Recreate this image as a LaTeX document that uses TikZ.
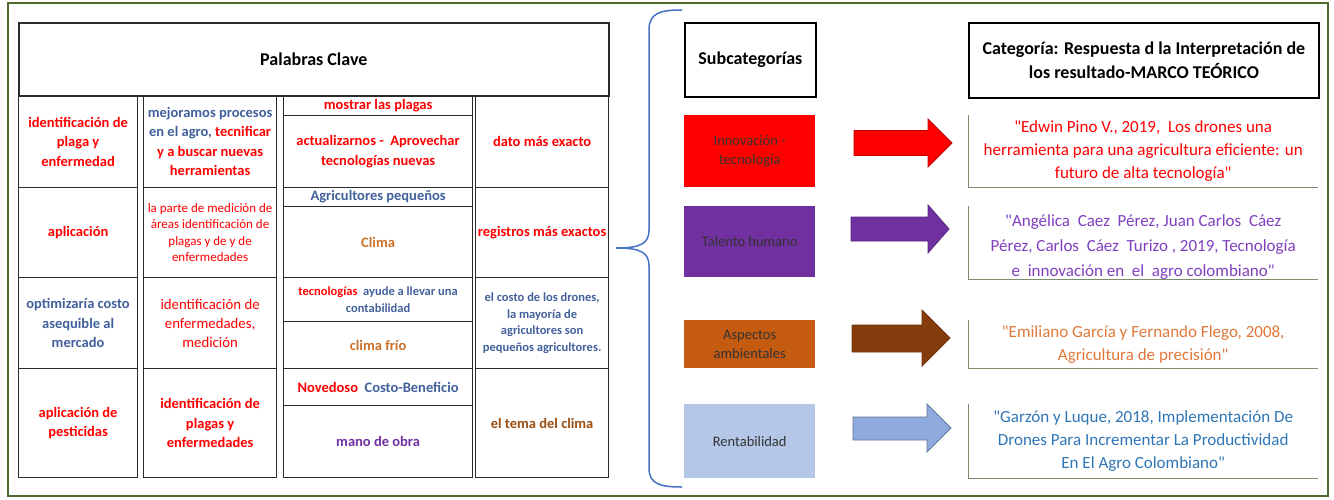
\documentclass[tikz,border=0pt]{standalone}
\usepackage{fontspec}
\setmainfont{Carlito}
\newfontfamily\citef{Carlito}
\definecolor{frameG}{HTML}{4F6B2F}
\definecolor{tline}{HTML}{2B2B2B}
\definecolor{kred}{HTML}{FF0000}
\definecolor{kblue}{HTML}{41609C}
\definecolor{korange}{HTML}{C8702A}
\definecolor{kbrown}{HTML}{9A4E12}
\definecolor{kpurple}{HTML}{7030A0}
\definecolor{subred}{HTML}{FF0000}
\definecolor{subpurple}{HTML}{7030A0}
\definecolor{suborange}{HTML}{C55A11}
\definecolor{subblue}{HTML}{B4C7E7}
\definecolor{arrbrown}{HTML}{843C0C}
\definecolor{arrblue}{HTML}{8FAADC}
\definecolor{citepurple}{HTML}{7F3FBF}
\definecolor{citeorange}{HTML}{E0783A}
\definecolor{citeblue}{HTML}{2E75B6}
\definecolor{citeline}{HTML}{7D8C6E}
\definecolor{bracec}{HTML}{4472C4}
\definecolor{subtext}{HTML}{333333}
\begin{document}
\begin{tikzpicture}[x=1pt,y=-1pt,
  cell/.style 2 args={draw=tline, line width=1.2pt, anchor=north west, minimum width=#1, minimum height=#2, inner sep=0pt, align=center},
  tb/.style={font=\fontsize{14.5}{19.5}\selectfont\bfseries},
  tbs/.style={font=\fontsize{12.5}{16.5}\selectfont\bfseries},
  tr/.style={font=\fontsize{14.8}{19}\selectfont},
  trs/.style={font=\fontsize{13}{16.3}\selectfont},
  hdr/.style={font=\fontsize{18}{24}\selectfont\bfseries},
  subbox/.style 2 args={fill=#1, anchor=north west, minimum width=131, minimum height=#2, inner sep=0pt, align=center, text=subtext, font=\fontsize{14.5}{19}\selectfont},
  citebox/.style 2 args={anchor=north west, minimum width=350, minimum height=#2, inner sep=0pt, align=center, text=#1, font=\citef\fontsize{17}{23}\selectfont},
  citeedge/.style={draw=citeline, line width=1pt},
  blockarrow/.style 2 args={fill=#1, draw=#2, line width=0.8pt}
]
\useasboundingbox (0,0) rectangle (1334,499);
\draw[frameG, line width=2.4pt] (8,3) rectangle (1328,496);

% ---------- table ----------
\node[cell={590}{73}, line width=1.6pt, hdr] (hdr) at (18,22) {Palabras Clave};

\node[cell={119}{92}, tb, text=kred] (c11) at (18,95) {identificación de\\plaga y\\enfermedad};
\node[cell={133}{92}, tb, text=kblue] (c12) at (143,95) {mejoramos procesos\\en el agro, {\color{kred}tecnificar}\\{\color{kred}y a buscar nuevas}\\{\color{kred}herramientas}};
\node[cell={189}{20}, tb, text=kred] (c13a) at (283,95) {mostrar las plagas};
\node[cell={189}{72}, tb, text=kred] (c13b) at (283,115) {actualizarnos -\ \ Aprovechar\\tecnologías nuevas};
\node[cell={133}{92}, tb, text=kred] (c14) at (475,95) {dato más exacto};

\node[cell={119}{90}, tb, text=kred] (c21) at (18,187) {aplicación};
\node[cell={133}{90}, trs, text=kred] (c22) at (143,187) {la parte de medición de\\áreas identificación de\\plagas y de y de\\enfermedades};
\node[cell={189}{19}, tb, text=kblue] (c23a) at (283,187) {Agricultores pequeños};
\node[cell={189}{71}, tb, text=korange] (c23b) at (283,206) {Clima};
\node[cell={133}{90}, tb, text=kred] (c24) at (475,187) {registros más exactos};

\node[cell={119}{91}, tb, text=kblue] (c31) at (18,277) {optimizaría costo\\asequible al\\mercado};
\node[cell={133}{91}, tr, text=kred] (c32) at (143,277) {identificación de\\enfermedades,\\medición};
\node[cell={189}{44}, tbs, text=kblue] (c33a) at (283,277) {{\color{kred}tecnologías}\ \ ayude a llevar una\\contabilidad};
\node[cell={189}{47}, tb, text=korange] (c33b) at (283,321) {clima frío};
\node[cell={133}{91}, tbs, text=kblue] (c34) at (475,277) {el costo de los drones,\\la mayoría de\\agricultores son\\pequeños agricultores.};

\node[cell={119}{109}, tb, text=kred] (c41) at (18,368) {aplicación de\\pesticidas};
\node[cell={133}{109}, tb, text=kred] (c42) at (143,368) {identificación de\\plagas y\\enfermedades};
\node[cell={189}{37}, tb, text=kblue] (c43a) at (283,368) {{\color{kred}Novedoso}\ \ Costo-Beneficio};
\node[cell={189}{72}, tb, text=kpurple] (c43b) at (283,405) {mano de obra};
\node[cell={133}{109}, tb, text=kbrown] (c44) at (475,368) {el tema del clima};

% ---------- brace ----------
\draw[bracec, line width=1.5pt]
  (682,10) .. controls (660,10) and (649,13) .. (649,30) -- (649,230)
  .. controls (649,244) and (640,248) .. (616,248)
  .. controls (640,248) and (649,252) .. (649,266) -- (649,468)
  .. controls (649,484) and (660,487) .. (682,487);

% ---------- subcategories ----------
\node[cell={131}{74}, draw=black, line width=1.8pt, font=\fontsize{18}{22}\selectfont\bfseries] (subhdr) at (684,22) {Subcategorías};
\node[subbox={subred}{72}] (s1) at (684,115) {Innovación -\\tecnología};
\node[subbox={subpurple}{71}] (s2) at (684,206) {Talento humano};
\node[subbox={suborange}{48}] (s3) at (684,320) {Aspectos\\ambientales};
\node[subbox={subblue}{74}] (s4) at (684,404) {Rentabilidad};

% ---------- block arrows ----------
\filldraw[blockarrow={kred}{red!75!black}] (854,130.5) -- (928,130.5) -- (928,119) -- (952,143) -- (928,167) -- (928,155.5) -- (854,155.5) -- cycle;
\filldraw[blockarrow={subpurple}{subpurple!80!black}] (851,217) -- (928,217) -- (928,205) -- (949,229) -- (928,253) -- (928,241) -- (851,241) -- cycle;
\filldraw[blockarrow={arrbrown}{arrbrown!85!black}] (852,325) -- (922,325) -- (922,310) -- (950,338) -- (922,366) -- (922,352) -- (852,352) -- cycle;
\filldraw[blockarrow={arrblue}{arrblue!70!black}] (853,417) -- (927,417) -- (927,404) -- (951,428) -- (927,452) -- (927,440) -- (853,440) -- cycle;

% ---------- category ----------
\node[cell={350}{75}, draw=black, line width=1.8pt, hdr] (cathdr) at (968,22) {Categoría: Respuesta d la Interpretación de\\los resultado-MARCO TEÓRICO};
\node[citebox={kred}{72}] (r1) at (968,115) {"Edwin Pino V., 2019,\ \ Los drones una\\herramienta para una agricultura eficiente: un\\futuro de alta tecnología"};
\coordinate (r2top) at (968,206);
\node[citebox={citepurple}{63}, font=\citef\fontsize{17}{25}\selectfont] (r2) at (968,214) {"Angélica\ \ Caez\ \ Pérez, Juan Carlos\ \ Cáez\\Pérez, Carlos\ \ Cáez\ \ Turizo , 2019, Tecnología\\e\ \ innovación en\ \ el\ \ agro colombiano"};
\node[citebox={citeorange}{48}] (r3) at (968,320) {"Emiliano García y Fernando Flego, 2008,\\Agricultura de precisión"};
\node[citebox={citeblue}{74}] (r4) at (968,404) {"Garzón y Luque, 2018, Implementación De\\Drones Para Incrementar La Productividad\\En El Agro Colombiano"};
\foreach \r in {r1,r3,r4}
  \draw[citeedge] (\r.north west) -- (\r.south west) -- (\r.south east);
\draw[citeedge] (r2top) -- (r2.south west) -- (r2.south east);
\end{tikzpicture}
\end{document}
